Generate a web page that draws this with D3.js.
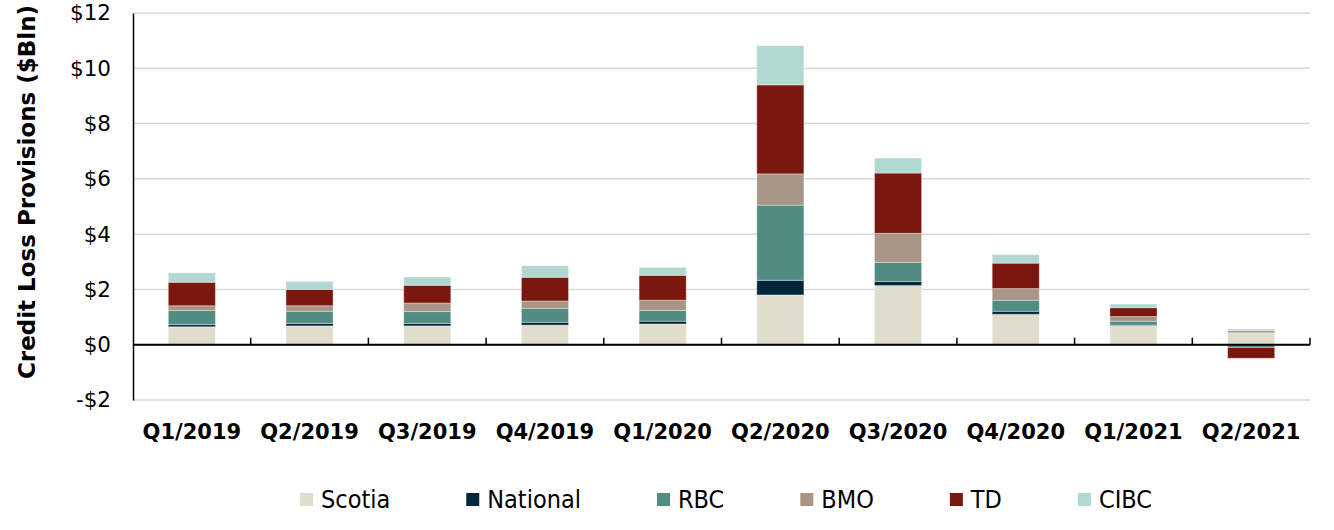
<!DOCTYPE html>
<html>
<head>
<meta charset="utf-8">
<script src="https://cdn.jsdelivr.net/npm/d3@7"></script>
<style>
  body { margin: 0; background: #fff; }
  svg { display: block; }
</style>
</head>
<body>
<svg id="chart" width="1334" height="530"></svg>
<script>

// Quarters along the x axis
var quarters = ["Q1/2019", "Q2/2019", "Q3/2019", "Q4/2019", "Q1/2020",
                "Q2/2020", "Q3/2020", "Q4/2020", "Q1/2021", "Q2/2021"];

// Provisions per bank, $Bln
var scotia   = [0.65, 0.68, 0.68, 0.71, 0.75, 1.80, 2.14, 1.10, 0.69, 0.43];
var national = [0.08, 0.09, 0.09, 0.10, 0.10, 0.53, 0.15, 0.11, 0.02, 0.00];
var rbc      = [0.51, 0.44, 0.43, 0.51, 0.39, 2.72, 0.69, 0.40, 0.14, -0.10];
var bmo      = [0.17, 0.20, 0.31, 0.26, 0.37, 1.13, 1.05, 0.42, 0.17, 0.08];
var td       = [0.85, 0.59, 0.64, 0.86, 0.90, 3.22, 2.18, 0.92, 0.32, -0.39];
var cibc     = [0.34, 0.29, 0.30, 0.42, 0.29, 1.42, 0.54, 0.31, 0.13, 0.06];

var banks  = ["Scotia", "National", "RBC", "BMO", "TD", "CIBC"];
var colors = ["#e0ddcd", "#03263a", "#518c82", "#a89585", "#7a170e", "#b1d9d2"];

var yTicks = [-2, 0, 2, 4, 6, 8, 10, 12];

var seriesValues = [scotia, national, rbc, bmo, td, cibc];

// Build rows for the stack
var rows = quarters.map(function(q, i) {
    var r = { quarter: q };
    banks.forEach(function(b, j) { r[b] = seriesValues[j][i]; });
    return r;
});

var svg = d3.select("#chart");

var plotLeft = 133, plotRight = 1310, plotTop = 13, plotBottom = 400;

var x = d3.scaleBand()
    .domain(quarters)
    .range([plotLeft, plotRight])
    .paddingInner(0.6)
    .paddingOuter(0.3);

var y = d3.scaleLinear()
    .domain([-2, 12])
    .range([plotBottom, plotTop]);

var color = d3.scaleOrdinal().domain(banks).range(colors);

// Gridlines
svg.append("g")
    .selectAll("line")
    .data(yTicks)
    .enter().append("line")
    .attr("x1", plotLeft)
    .attr("x2", plotRight)
    .attr("y1", function(d) { return y(d); })
    .attr("y2", function(d) { return y(d); })
    .style("stroke", "#d9d9d9")
    .style("stroke-width", 1.5);

// Stacked bars, negatives go below zero
var stack = d3.stack()
    .keys(banks)
    .offset(d3.stackOffsetDiverging);

var layers = stack(rows);

svg.append("g")
    .selectAll("g")
    .data(layers)
    .enter().append("g")
    .style("fill", function(d) { return color(d.key); })
    .selectAll("rect")
    .data(function(d) { return d; })
    .enter().append("rect")
    .attr("x", function(d) { return x(d.data.quarter); })
    .attr("width", x.bandwidth())
    .attr("y", function(d) { return y(Math.max(d[0], d[1])); })
    .attr("height", function(d) { return Math.abs(y(d[0]) - y(d[1])); })
    .style("stroke", "#fff")
    .style("stroke-opacity", 0.35)
    .style("stroke-width", 1);

// Y axis
var yAxis = d3.axisLeft(y)
    .tickValues(yTicks)
    .tickSize(0)
    .tickPadding(22)
    .tickFormat(function(d) { return (d < 0 ? "-$" : "$") + Math.abs(d); });

var yG = svg.append("g")
    .attr("transform", "translate(" + plotLeft + ",0)")
    .call(yAxis);
yG.select(".domain").style("stroke", "#000").style("stroke-width", 1.5);
yG.selectAll("text")
    .style("font-family", "'DejaVu Sans', sans-serif")
    .style("font-size", "21.5px")
    .style("fill", "#000");

// Zero line with ticks pointing up at band edges
svg.append("line")
    .attr("x1", plotLeft)
    .attr("x2", plotRight)
    .attr("y1", y(0))
    .attr("y2", y(0))
    .style("stroke", "#000")
    .style("stroke-width", 2);

svg.append("g")
    .selectAll("line")
    .data(d3.range(1, quarters.length + 1))
    .enter().append("line")
    .attr("x1", function(k) { return plotLeft + k * (plotRight - plotLeft) / quarters.length; })
    .attr("x2", function(k) { return plotLeft + k * (plotRight - plotLeft) / quarters.length; })
    .attr("y1", y(0))
    .attr("y2", y(0) - 7)
    .style("stroke", "#000")
    .style("stroke-width", 1.5);

// Category labels
svg.append("g")
    .selectAll("text")
    .data(quarters)
    .enter().append("text")
    .attr("x", function(d) { return x(d) + x.bandwidth() / 2; })
    .attr("y", 439)
    .attr("text-anchor", "middle")
    .style("font-family", "'DejaVu Sans', sans-serif")
    .style("font-weight", "bold")
    .style("font-size", "21px")
    .text(function(d) { return d; });

// Y title
svg.append("text")
    .attr("transform", "translate(35," + 192 + ") rotate(-90)")
    .attr("text-anchor", "middle")
    .style("font-family", "'DejaVu Sans', sans-serif")
    .style("font-weight", "bold")
    .style("font-size", "23px")
    .text("Credit Loss Provisions ($Bln)");

// Legend
var legend = svg.append("g");
var lx = 300;
banks.forEach(function(b, i) {
    legend.append("rect")
        .attr("x", lx)
        .attr("y", 493)
        .attr("width", 13)
        .attr("height", 13)
        .style("fill", colors[i]);
    var t = legend.append("text")
        .attr("x", lx + 21)
        .attr("y", 508)
        .style("font-family", "'DejaVu Sans Condensed', sans-serif")
        .style("font-stretch", "condensed")
        .style("font-size", "25px")
        .text(b);
    lx += 21 + t.node().getComputedTextLength() + 76;
});

</script>
</body>
</html>
